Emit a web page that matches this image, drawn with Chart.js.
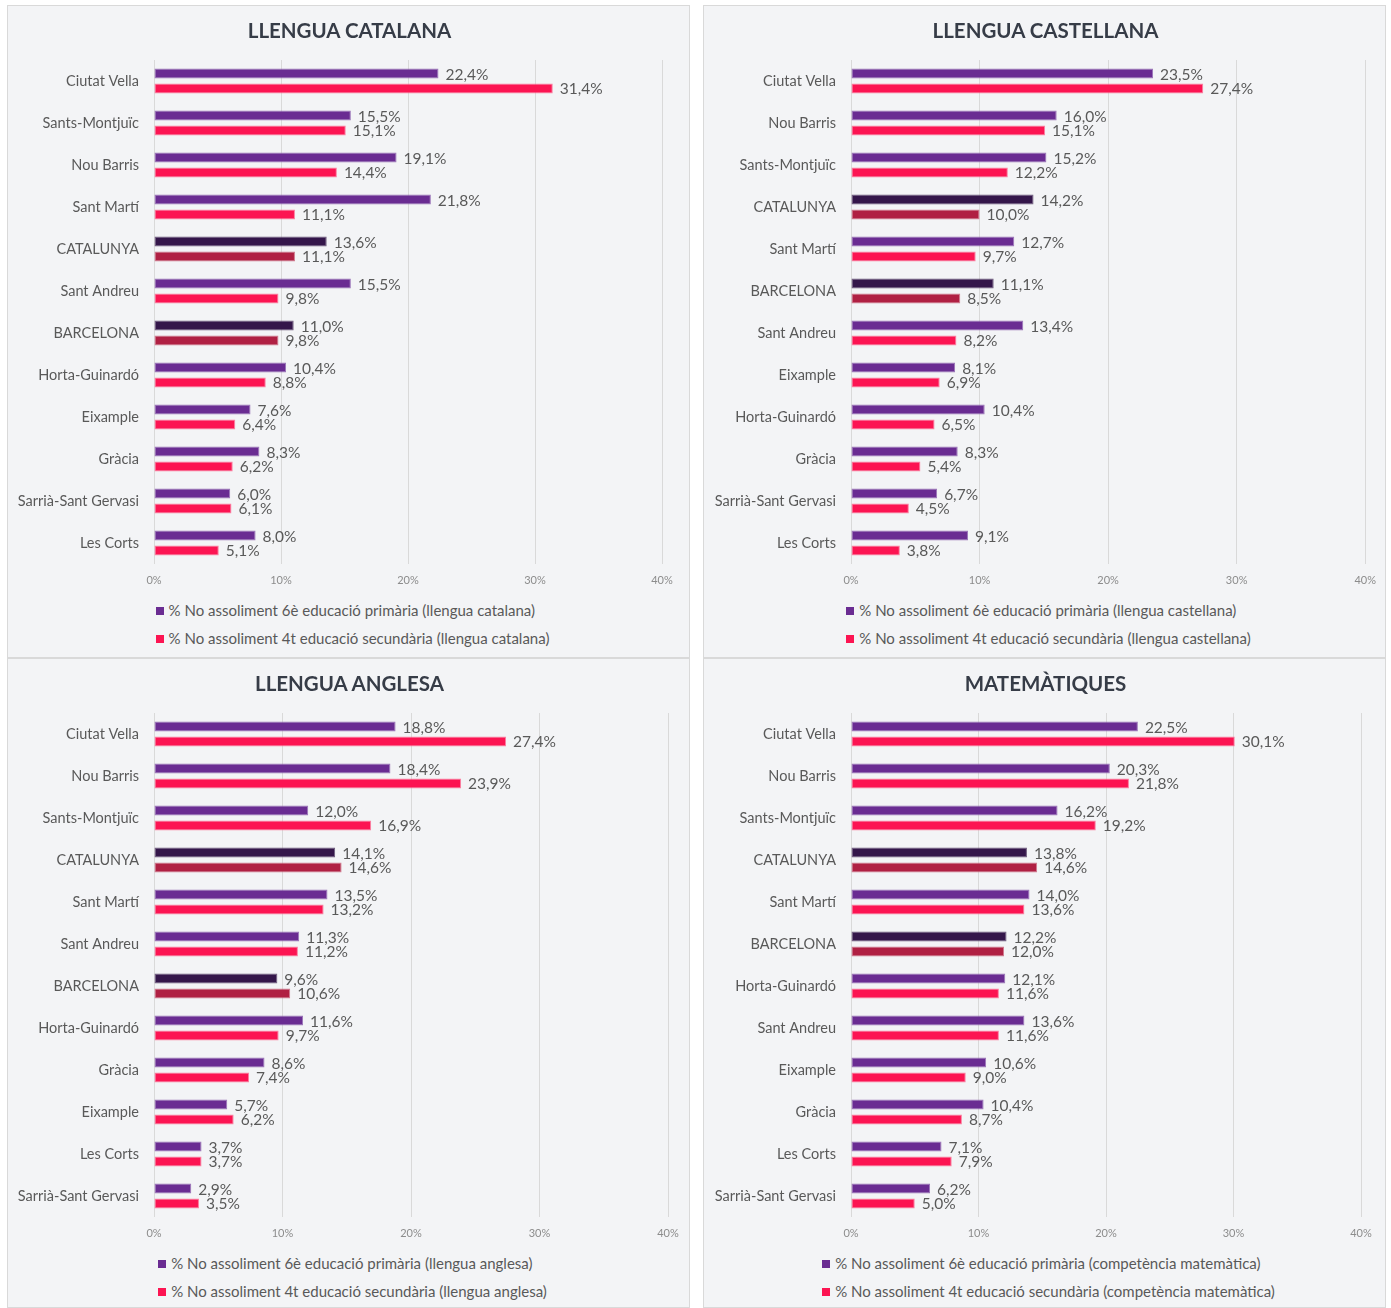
<!DOCTYPE html>
<html>
<head>
<meta charset="utf-8">
<script src="https://cdn.jsdelivr.net/npm/chart.js@4.4.1/dist/chart.umd.min.js"></script>
<style>
  html, body { margin:0; padding:0; background:#ffffff; }
  body { width:1391px; height:1308px; position:relative; overflow:hidden; font-family: Lato, "Open Sans", sans-serif; }
  .panel { position:absolute; width:683px; box-sizing:border-box; border:1px solid #d9d9d9; background:#f3f4f6; }
  .panel canvas { position:absolute; left:-1px; top:-1px; }
  .ptitle { position:absolute; left:-1px; top:11px; width:683px; text-align:center; font-weight:bold; font-size:20.5px; line-height:26px; color:#363c47; transform:translateX(1px); }
  .legend { position:absolute; left:-1px; width:683px; display:flex; justify-content:center; }
  .legend .inner { transform:translateX(4px); }
  .legend .item { height:28px; line-height:28px; font-size:15px; color:#595959; white-space:nowrap; }
  .legend .box { display:inline-block; width:8px; height:8px; margin-right:5px; vertical-align:middle; position:relative; top:-1px; }
</style>
</head>
<body>
<div class="panel" id="p1" style="left:7px;top:5px;height:653px;"><canvas id="c1" width="683" height="590"></canvas><div class="ptitle" id="t1"></div><div class="legend" id="l1" style="top:590px"></div></div>
<div class="panel" id="p2" style="left:703px;top:5px;height:653px;"><canvas id="c2" width="683" height="590"></canvas><div class="ptitle" id="t2"></div><div class="legend" id="l2" style="top:590px"></div></div>
<div class="panel" id="p3" style="left:7px;top:658px;height:650px;"><canvas id="c3" width="683" height="590"></canvas><div class="ptitle" id="t3"></div><div class="legend" id="l3" style="top:590px"></div></div>
<div class="panel" id="p4" style="left:703px;top:658px;height:650px;"><canvas id="c4" width="683" height="590"></canvas><div class="ptitle" id="t4"></div><div class="legend" id="l4" style="top:590px"></div></div>
<script>
// ---------- DATA ----------
const titles = ['LLENGUA CATALANA', 'LLENGUA CASTELLANA', 'LLENGUA ANGLESA', 'MATEMÀTIQUES'];
const xTickLabels = ['0%', '10%', '20%', '30%', '40%'];

const catCatalana = ['Ciutat Vella','Sants-Montjuïc','Nou Barris','Sant Martí','CATALUNYA','Sant Andreu','BARCELONA','Horta-Guinardó','Eixample','Gràcia','Sarrià-Sant Gervasi','Les Corts'];
const primCatalana = [22.4, 15.5, 19.1, 21.8, 13.6, 15.5, 11.0, 10.4, 7.6, 8.3, 6.0, 8.0];
const secCatalana  = [31.4, 15.1, 14.4, 11.1, 11.1, 9.8, 9.8, 8.8, 6.4, 6.2, 6.1, 5.1];
const legCatalana = ['% No assoliment 6è educació primària (llengua catalana)', '% No assoliment 4t educació secundària (llengua catalana)'];

const catCastellana = ['Ciutat Vella','Nou Barris','Sants-Montjuïc','CATALUNYA','Sant Martí','BARCELONA','Sant Andreu','Eixample','Horta-Guinardó','Gràcia','Sarrià-Sant Gervasi','Les Corts'];
const primCastellana = [23.5, 16.0, 15.2, 14.2, 12.7, 11.1, 13.4, 8.1, 10.4, 8.3, 6.7, 9.1];
const secCastellana  = [27.4, 15.1, 12.2, 10.0, 9.7, 8.5, 8.2, 6.9, 6.5, 5.4, 4.5, 3.8];
const legCastellana = ['% No assoliment 6è educació primària (llengua castellana)', '% No assoliment 4t educació secundària (llengua castellana)'];

const catAnglesa = ['Ciutat Vella','Nou Barris','Sants-Montjuïc','CATALUNYA','Sant Martí','Sant Andreu','BARCELONA','Horta-Guinardó','Gràcia','Eixample','Les Corts','Sarrià-Sant Gervasi'];
const primAnglesa = [18.8, 18.4, 12.0, 14.1, 13.5, 11.3, 9.6, 11.6, 8.6, 5.7, 3.7, 2.9];
const secAnglesa  = [27.4, 23.9, 16.9, 14.6, 13.2, 11.2, 10.6, 9.7, 7.4, 6.2, 3.7, 3.5];
const legAnglesa = ['% No assoliment 6è educació primària (llengua anglesa)', '% No assoliment 4t educació secundària (llengua anglesa)'];

const catMates = ['Ciutat Vella','Nou Barris','Sants-Montjuïc','CATALUNYA','Sant Martí','BARCELONA','Horta-Guinardó','Sant Andreu','Eixample','Gràcia','Les Corts','Sarrià-Sant Gervasi'];
const primMates = [22.5, 20.3, 16.2, 13.8, 14.0, 12.2, 12.1, 13.6, 10.6, 10.4, 7.1, 6.2];
const secMates  = [30.1, 21.8, 19.2, 14.6, 13.6, 12.0, 11.6, 11.6, 9.0, 8.7, 7.9, 5.0];
const legMates = ['% No assoliment 6è educació primària (competència matemàtica)', '% No assoliment 4t educació secundària (competència matemàtica)'];

const highlighted = ['CATALUNYA', 'BARCELONA'];

// ---------- STYLE ----------
const COL = {
  purple: '#6a2c92', purpleBorder: '#9a74b8',
  pink: '#fc1452', pinkBorder: '#fb7fa0',
  dark: '#34164a', darkBorder: '#6d5a7c',
  crimson: '#b02043', crimsonBorder: '#d07a8e',
  text: '#595959', tick: '#8c8c8c', grid: '#d9d9d9'
};
const FONT = 'Lato';

function fmt(v) { return v.toFixed(1).replace('.', ',') + '%'; }

const valueLabels = {
  id: 'valueLabels',
  afterDatasetsDraw(chart) {
    const ctx = chart.ctx;
    ctx.save();
    ctx.font = '15.5px ' + FONT;
    ctx.fillStyle = COL.text;
    ctx.textAlign = 'left';
    ctx.textBaseline = 'middle';
    chart.data.datasets.forEach((ds, di) => {
      chart.getDatasetMeta(di).data.forEach((el, i) => {
        ctx.fillText(fmt(ds.data[i]), el.x + 7, el.y + 1);
      });
    });
    ctx.restore();
  }
};

const panels = [
  { canvas: 'c1', legend: 'l1', titleEl: 't1', title: titles[0], cats: catCatalana, prim: primCatalana, sec: secCatalana, leg: legCatalana, left: 147, right: 28 },
  { canvas: 'c2', legend: 'l2', titleEl: 't2', title: titles[1], cats: catCastellana, prim: primCastellana, sec: secCastellana, leg: legCastellana, left: 148, right: 20 },
  { canvas: 'c3', legend: 'l3', titleEl: 't3', title: titles[2], cats: catAnglesa, prim: primAnglesa, sec: secAnglesa, leg: legAnglesa, left: 147, right: 22 },
  { canvas: 'c4', legend: 'l4', titleEl: 't4', title: titles[3], cats: catMates, prim: primMates, sec: secMates, leg: legMates, left: 148, right: 25 }
];

function build() {
  panels.forEach(p => {
    const isHi = c => highlighted.includes(c);
    const primBg = p.cats.map(c => isHi(c) ? COL.dark : COL.purple);
    const primBd = p.cats.map(c => isHi(c) ? COL.darkBorder : COL.purpleBorder);
    const secBg = p.cats.map(c => isHi(c) ? COL.crimson : COL.pink);
    const secBd = p.cats.map(c => isHi(c) ? COL.crimsonBorder : COL.pinkBorder);

    document.getElementById(p.titleEl).textContent = p.title;

    new Chart(document.getElementById(p.canvas), {
      type: 'bar',
      data: {
        labels: p.cats,
        datasets: [
          { label: p.leg[0], data: p.prim, backgroundColor: primBg, borderColor: primBd, borderWidth: 1, borderSkipped: false,
            categoryPercentage: 0.714, barPercentage: 0.667 },
          { label: p.leg[1], data: p.sec, backgroundColor: secBg, borderColor: secBd, borderWidth: 1, borderSkipped: false,
            categoryPercentage: 0.714, barPercentage: 0.667 }
        ]
      },
      options: {
        indexAxis: 'y',
        responsive: false,
        animation: false,
        layout: { padding: { left: 0, right: p.right, top: 55, bottom: 0 } },
        plugins: {
          legend: { display: false },
          tooltip: { enabled: false },
          title: { display: false }
        },
        scales: {
          x: {
            min: 0, max: 40,
            ticks: { stepSize: 10, color: COL.tick, font: { family: FONT, size: 11 }, padding: 10,
                     callback: (v) => xTickLabels[Math.round(v / 10)] },
            grid: { color: COL.grid, drawTicks: false, lineWidth: 1 },
            border: { display: false },
            afterFit: s => { s.height = 31; }
          },
          y: {
            ticks: { color: COL.text, font: { family: FONT, size: 14.5 }, padding: 15 },
            grid: { display: false, drawTicks: false },
            border: { display: false },
            afterFit: s => { s.width = p.left; }
          }
        }
      },
      plugins: [valueLabels]
    });

    const lg = document.getElementById(p.legend);
    const inner = document.createElement('div');
    inner.className = 'inner';
    [COL.purple, COL.pink].forEach((c, i) => {
      const it = document.createElement('div');
      it.className = 'item';
      const b = document.createElement('span');
      b.className = 'box';
      b.style.background = c;
      it.appendChild(b);
      it.appendChild(document.createTextNode(p.leg[i]));
      inner.appendChild(it);
    });
    lg.appendChild(inner);
  });
}

Promise.all([
  document.fonts.load('15px ' + FONT),
  document.fonts.load('bold 21px ' + FONT)
]).then(build, build);
</script>
</body>
</html>
